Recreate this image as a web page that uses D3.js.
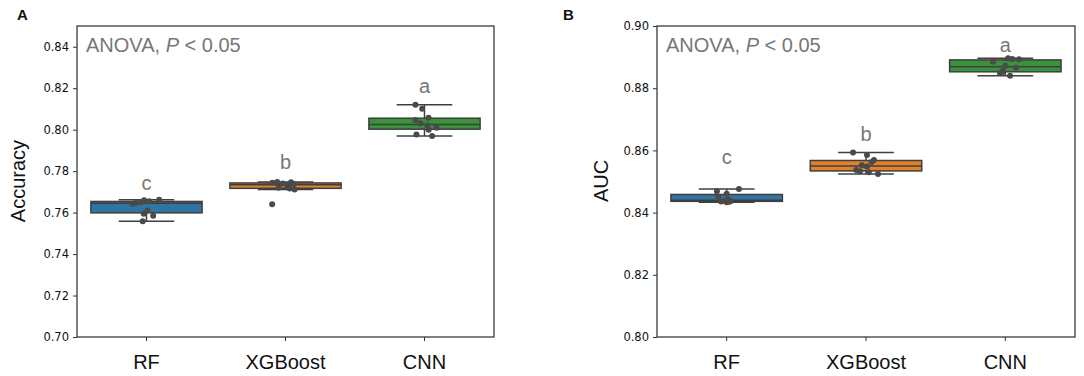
<!DOCTYPE html>
<meta charset="utf-8">
<script src="https://d3js.org/d3.v7.min.js"></script>
<style>
  body { margin: 0; background: #fff; }
  text { font-family: "Liberation Sans", Arial, sans-serif; }
</style>
<svg width="1084" height="376"></svg>
<script>

    // models on the x axis
    const models = ["RF", "XGBoost", "CNN"];
    const colors = ["#3274a1", "#e1812c", "#3a923a"];
    const letters = ["c", "b", "a"];

    // panel A: accuracy per fold
    const accRF = [0.7558, 0.7585, 0.7595, 0.7610, 0.7643, 0.7647, 0.7650, 0.7655, 0.7660, 0.7662];
    const accXGB = [0.7640, 0.7712, 0.7716, 0.7720, 0.7730, 0.7738, 0.7740, 0.7744, 0.7746, 0.7748];
    const accCNN = [0.7970, 0.7977, 0.8000, 0.8009, 0.8020, 0.8031, 0.8047, 0.8058, 0.8101, 0.8120];
    const accLetterY = [0.7709, 0.7808, 0.8177];
    const accTicks = [0.70, 0.72, 0.74, 0.76, 0.78, 0.80, 0.82, 0.84];

    // panel B: AUC per fold
    const aucRF = [0.8433, 0.8435, 0.8436, 0.8437, 0.8438, 0.8442, 0.8450, 0.8461, 0.8469, 0.8476];
    const aucXGB = [0.8524, 0.8530, 0.8533, 0.8537, 0.8548, 0.8552, 0.8563, 0.8569, 0.8585, 0.8593];
    const aucCNN = [0.8840, 0.8848, 0.8852, 0.8855, 0.8866, 0.8872, 0.8885, 0.8893, 0.8894, 0.8896];
    const aucLetterY = [0.8556, 0.8629, 0.8918];
    const aucTicks = [0.80, 0.82, 0.84, 0.86, 0.88, 0.90];

    // strip jitter (fraction of band), same order as the values
    const jitA = [
        [-0.027, 0.048, -0.02, 0.007, -0.10, -0.074, -0.04, 0.02, -0.017, 0.091],
        [-0.096, 0.065, 0.03, -0.05, 0.014, 0.06, -0.02, -0.094, 0.04, -0.06],
        [0.055, -0.058, 0.03, 0.086, 0.02, -0.029, -0.065, 0.029, -0.017, -0.065]
    ];
    const jitB = [
        [0.0, 0.02, -0.04, 0.03, -0.02, 0.01, -0.06, 0.0, -0.07, 0.088],
        [0.086, 0.02, -0.043, -0.07, 0.007, -0.03, 0.04, 0.057, 0.007, -0.093],
        [0.034, -0.038, -0.02, -0.017, 0.077, 0.0, -0.088, 0.098, 0.05, 0.02]
    ];

    const svg = d3.select("svg");
    const line = "#3f3f3f";

    function boxStats(vals) {
        const s = vals.slice().sort(d3.ascending);
        const q1 = d3.quantile(s, 0.25), med = d3.quantile(s, 0.5), q3 = d3.quantile(s, 0.75);
        const iqr = q3 - q1;
        const inside = s.filter(v => v >= q1 - 1.5 * iqr && v <= q3 + 1.5 * iqr);
        return {q1: q1, med: med, q3: q3, lo: d3.min(inside), hi: d3.max(inside)};
    }

    function panel(o) {
        const x = d3.scaleBand().domain(models).range([o.left, o.right]).padding(0);
        const y = d3.scaleLinear().domain(o.domain).range([337, 26]);
        const bw = x.bandwidth() * 0.8;
        const g = svg.append("g");

        // y axis
        g.append("g")
            .attr("transform", "translate(" + o.left + ",0)")
            .call(d3.axisLeft(y).tickValues(o.ticks).tickFormat(d3.format(".2f")).tickSize(4).tickPadding(4))
            .call(a => a.select(".domain").remove())
            .call(a => a.selectAll("line").attr("stroke", "#333"))
            .call(a => a.selectAll("text").attr("fill", "#111").style("font-family", "DejaVu Sans").style("font-size", "11.5px"));

        // x axis
        g.append("g")
            .attr("transform", "translate(0,337)")
            .call(d3.axisBottom(x).tickSize(4).tickPadding(14))
            .call(a => a.select(".domain").remove())
            .call(a => a.selectAll("line").attr("stroke", "#333"))
            .call(a => a.selectAll("text").attr("fill", "#111").style("font-size", "20px"));

        o.series.forEach((vals, i) => {
            const st = boxStats(vals);
            const cx = x(models[i]) + x.bandwidth() / 2;
            const bg = g.append("g");
            bg.append("line").attr("x1", cx).attr("x2", cx).attr("y1", y(st.q3)).attr("y2", y(st.hi))
                .attr("stroke", line).attr("stroke-width", 1.5);
            bg.append("line").attr("x1", cx).attr("x2", cx).attr("y1", y(st.q1)).attr("y2", y(st.lo))
                .attr("stroke", line).attr("stroke-width", 1.5);
            [st.lo, st.hi].forEach(v => {
                bg.append("line").attr("x1", cx - bw / 4).attr("x2", cx + bw / 4)
                    .attr("y1", y(v)).attr("y2", y(v))
                    .attr("stroke", line).attr("stroke-width", 1.5);
            });
            bg.append("rect")
                .attr("x", cx - bw / 2).attr("width", bw)
                .attr("y", y(st.q3)).attr("height", y(st.q1) - y(st.q3))
                .attr("fill", colors[i]).attr("stroke", line).attr("stroke-width", 1.5);
            bg.append("line").attr("x1", cx - bw / 2).attr("x2", cx + bw / 2)
                .attr("y1", y(st.med)).attr("y2", y(st.med))
                .attr("stroke", line).attr("stroke-width", 1.5);

            bg.selectAll("circle").data(vals).enter().append("circle")
                .attr("cx", (d, j) => cx + o.jitter[i][j] * x.bandwidth())
                .attr("cy", d => y(d))
                .attr("r", 3)
                .attr("fill", "#4a4a4a");

            g.append("text")
                .attr("x", cx).attr("y", y(o.letterY[i]))
                .attr("text-anchor", "middle")
                .attr("fill", "#777").style("font-size", "20px")
                .text(letters[i]);
        });

        // frame
        g.append("rect")
            .attr("x", o.left).attr("y", 26)
            .attr("width", o.right - o.left).attr("height", 311)
            .attr("fill", "none").attr("stroke", "#333").attr("stroke-width", 1.25);

        const an = g.append("text")
            .attr("x", o.left + 9).attr("y", 52)
            .attr("fill", "#777").style("font-size", "20px");
        an.append("tspan").text("ANOVA, ");
        an.append("tspan").style("font-style", "italic").text("P");
        an.append("tspan").text(" < 0.05");

        g.append("text")
            .attr("transform", "translate(" + o.labelX + ",181) rotate(-90)")
            .attr("text-anchor", "middle")
            .attr("fill", "#111").style("font-size", "20px")
            .text(o.label);

        g.append("text")
            .attr("x", o.tagX).attr("y", 20)
            .attr("fill", "#111").style("font-size", "15px").style("font-weight", "bold")
            .text(o.tag);
    }

    panel({left: 77, right: 494, domain: [0.70, 0.85], ticks: accTicks,
        series: [accRF, accXGB, accCNN], jitter: jitA, letterY: accLetterY,
        label: "Accuracy", labelX: 25, tag: "A", tagX: 17});

    panel({left: 657, right: 1075, domain: [0.80, 0.90], ticks: aucTicks,
        series: [aucRF, aucXGB, aucCNN], jitter: jitB, letterY: aucLetterY,
        label: "AUC", labelX: 608, tag: "B", tagX: 563});

</script>
